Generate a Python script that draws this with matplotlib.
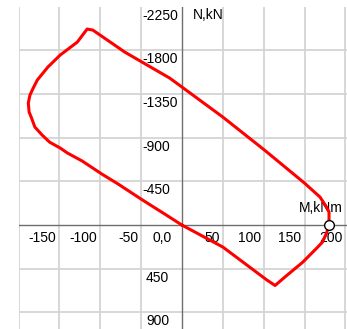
import matplotlib
matplotlib.use("Agg")
import matplotlib.pyplot as plt

# Interaction curve M-N
M_vals = [0, 50, 104, 114, 126, 148, 165, 172, 177, 180, 180, 177, 169, 150, 101, 50, 0,
          -15, -70, -109, -116, -128, -149, -164, -177, -182, -186, -188, -187, -184,
          -180, -171, -162, -149, -140, -122, -98, -78, -49, -21, 0]
N_vals = [0, 226, 566, 622, 535, 381, 237, 175, 82, 0, -134, -185, -288, -432, -772, -1112, -1421,
          -1513, -1781, -2007, -2018, -1884, -1750, -1627, -1493, -1410, -1338, -1256, -1163, -1101,
          -1009, -926, -854, -793, -741, -659, -525, -422, -262, -113, 0]

point_M = [180]
point_N = [0]

x_ticks = [-150, -100, -50, 50, 100, 150, 200]
x_labels = ["-150", "-100", "-50", "50", "100", "150", "200"]
y_ticks = [-2250, -1800, -1350, -900, -450, 450, 900]
y_labels = ["-2250", "-1800", "-1350", "-900", "-450", "450", "900"]

W, H = 347, 329
fig = plt.figure(figsize=(W / 100, H / 100), dpi=100)
ax = fig.add_axes([18.5 / W, 0, 328.5 / W, 1 - 6.5 / H])
ax.set_xlim(-200, 202)
ax.set_ylim(1070, -2250)
for s in ax.spines.values():
    s.set_visible(False)
ax.set_xticks([])
ax.set_yticks([])

font = dict(family=["Liberation Sans", "DejaVu Sans"], fontsize=10, color="black")
grid_c = "#d4d4d4"
for gx in range(-200, 201, 50):
    if gx != 0:
        ax.axvline(gx, color=grid_c, lw=1.3, zorder=1)
for gy in range(-2250, 1351, 450):
    if gy != 0:
        ax.axhline(gy, color=grid_c, lw=1.3, zorder=1)
ax.axvline(0, color="#6e6e6e", lw=1.0, zorder=2)
ax.axhline(0, color="#6e6e6e", lw=1.0, zorder=2)

px = 0.72  # points per pixel
for xv, lab in zip(x_ticks, x_labels):
    ax.annotate(lab, xy=(xv, 0), xytext=(-3 * px, -6 * px), textcoords="offset points",
                ha="right", va="top", **font)
ax.annotate("0,0", xy=(0, 0), xytext=(-10 * px, -6 * px), textcoords="offset points",
            ha="right", va="top", **font)
for yv, lab in zip(y_ticks, y_labels):
    dx = -40 * px if lab.startswith("-") else -36 * px
    ax.annotate(lab, xy=(0, yv), xytext=(dx, -2 * px), textcoords="offset points",
                ha="left", va="top", **font)

ax.annotate("N,kN", xy=(0, -2250), xytext=(11 * px, -1.5 * px), textcoords="offset points",
            ha="left", va="top", **font)
ax.annotate("M,kNm", xy=(202, 0), xytext=(-4 * px, 10 * px), textcoords="offset points",
            ha="right", va="bottom", **font)

ax.plot(M_vals, N_vals, color="#ff0000", lw=2.2, zorder=3, solid_joinstyle="round")
ax.plot(point_M, point_N, "o", ms=7, mfc="white", mec="black", mew=1.0, zorder=4)

fig.savefig("out.png", dpi=100)
